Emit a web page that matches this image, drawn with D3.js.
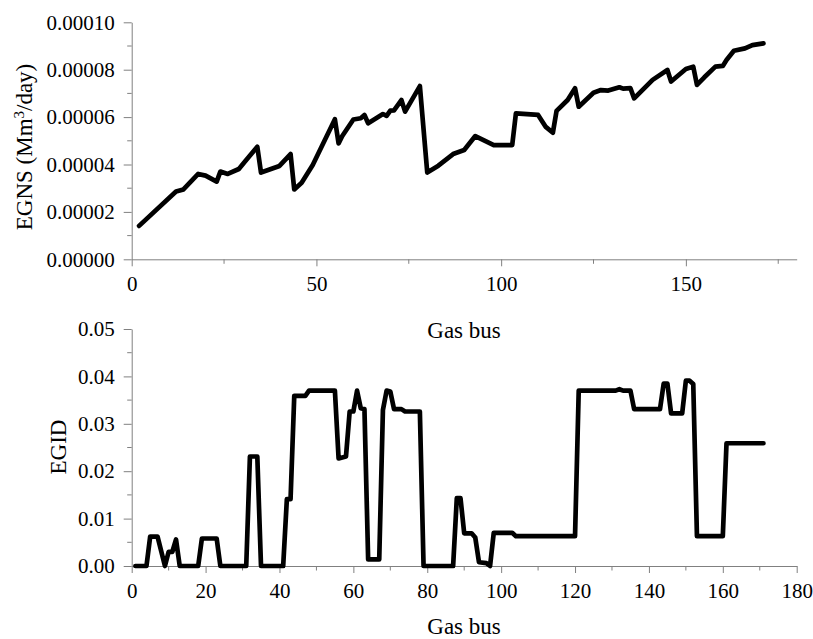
<!DOCTYPE html>
<html>
<head>
<meta charset="utf-8">
<script src="https://cdnjs.cloudflare.com/ajax/libs/d3/7.8.5/d3.min.js"></script>
<style>
  body { margin: 0; background: #fff; }
  .axis path, .axis line { stroke: #808080; stroke-width: 1; }
</style>
</head>
<body>
<svg id="chart" width="813" height="639"></svg>
<script>
// top panel: expected gas not supplied per gas bus
var egnsBus = [2, 12, 14, 18, 20, 23, 24, 26, 29, 31, 34, 35, 40, 43, 44, 46, 49, 55, 56, 57,
  60, 62, 63, 64, 68, 69, 70, 71, 73, 74, 78, 80, 83, 87, 90, 93, 98, 103, 104, 110,
  112, 114, 115, 118, 120, 121, 125, 127, 129, 132, 133, 135, 136, 141, 145, 146, 150, 152, 153, 155,
  158, 160, 161, 163, 166, 168, 171];
var egnsValue = [0.0000141, 0.0000286, 0.0000295, 0.0000360, 0.0000353, 0.0000328, 0.0000370, 0.0000360, 0.0000381, 0.0000419,
  0.0000475, 0.0000366, 0.0000394, 0.0000444, 0.0000295, 0.0000323, 0.0000398, 0.0000591, 0.0000489, 0.0000520,
  0.0000590, 0.0000595, 0.0000609, 0.0000574, 0.0000613, 0.0000605, 0.0000627, 0.0000628, 0.0000672, 0.0000623,
  0.0000731, 0.0000366, 0.0000395, 0.0000444, 0.0000461, 0.0000520, 0.0000482, 0.0000482, 0.0000616, 0.0000609,
  0.0000560, 0.0000534, 0.0000626, 0.0000672, 0.0000722, 0.0000644, 0.0000703, 0.0000714, 0.0000712, 0.0000726,
  0.0000720, 0.0000722, 0.0000679, 0.0000757, 0.0000799, 0.0000750, 0.0000803, 0.0000813, 0.0000736, 0.0000768,
  0.0000813, 0.0000816, 0.0000841, 0.0000880, 0.0000890, 0.0000904, 0.0000911];

// bottom panel: EGID per gas bus
var egidBus = [1, 4, 5, 7, 9, 10, 11, 12, 13, 18, 19, 23, 24, 31, 32, 34, 35, 41, 42, 43,
  44, 47, 48, 55, 56, 58, 59, 60, 61, 62, 63, 64, 67, 68, 69, 70, 71, 73, 74, 78,
  79, 87, 88, 89, 90, 92, 93, 94, 96, 97, 98, 103, 104, 120, 121, 131, 132, 133, 135, 136,
  143, 144, 145, 146, 149, 150, 151, 152, 153, 160, 161, 171];
var egidValue = [0, 0, 0.0062, 0.0062, 0, 0.0030, 0.0030, 0.0056, 0, 0, 0.0058, 0.0058, 0, 0, 0.0231, 0.0231, 0, 0, 0.0141, 0.0141,
  0.0359, 0.0359, 0.0370, 0.0370, 0.0227, 0.0231, 0.0326, 0.0326, 0.0370, 0.0333, 0.0331, 0.0014, 0.0014, 0.0329, 0.0370, 0.0368,
  0.0331, 0.0331, 0.0326, 0.0326, 0, 0, 0.0143, 0.0143, 0.0069, 0.0069, 0.0060, 0.0008, 0.0006, 0, 0.0070, 0.0070,
  0.0063, 0.0063, 0.0370, 0.0370, 0.0373, 0.0370, 0.0370, 0.0331, 0.0331, 0.0385, 0.0385, 0.0322, 0.0322, 0.0391,
  0.0391, 0.0384, 0.0063, 0.0063, 0.0259, 0.0259];

var topYTicks = [0, 0.00002, 0.00004, 0.00006, 0.00008, 0.0001];
var topXTicks = [0, 50, 100, 150];
var botYTicks = [0, 0.01, 0.02, 0.03, 0.04, 0.05];
var botXTicks = [0, 20, 40, 60, 80, 100, 120, 140, 160, 180];

var serif = "'Liberation Serif', 'Times New Roman', serif";
var svg = d3.select("#chart");
var left = 131.7, right = 796.7;

function drawPanel(opt) {
  var x = d3.scaleLinear().domain([0, 180]).range([left, right]);
  var y = d3.scaleLinear().domain([0, opt.yMax]).range([opt.y0, opt.y1]);
  var g = svg.append("g");

  // minor ticks
  var xa = g.append("g").attr("class", "axis").attr("transform", "translate(0," + opt.y0 + ")");
  xa.selectAll("line.minor").data(opt.xMinor).enter().append("line")
    .attr("x1", d => x(d)).attr("x2", d => x(d)).attr("y1", 0).attr("y2", 4.5);
  xa.call(d3.axisBottom(x).tickValues(opt.xTicks).tickSize(7).tickSizeOuter(0).tickPadding(10)
    .tickFormat(d3.format("d")));

  var ya = g.append("g").attr("class", "axis").attr("transform", "translate(" + left + ",0)");
  ya.selectAll("line.minor").data(opt.yMinor).enter().append("line")
    .attr("x1", 0).attr("x2", -4.5).attr("y1", d => y(d)).attr("y2", d => y(d));
  ya.call(d3.axisLeft(y).tickValues(opt.yTicks).tickSize(8).tickSizeOuter(0).tickPadding(9)
    .tickFormat(d3.format(opt.yFmt)));

  g.selectAll(".axis").attr("font-family", serif).attr("font-size", 21);
  g.selectAll(".axis text").attr("fill", "#000");
  xa.selectAll(".tick text").attr("dy", "0.71em").attr("y", 17);

  var pts = opt.bus.map((b, i) => [b, opt.val[i]]);
  g.append("path")
    .datum(pts)
    .attr("fill", "none")
    .attr("stroke", "#000")
    .attr("stroke-width", 4.7)
    .attr("stroke-linejoin", "round")
    .attr("stroke-linecap", "round")
    .attr("d", d3.line().x(d => x(d[0])).y(d => y(d[1])));
}

drawPanel({
  y0: 259.3, y1: 22.3, yMax: 0.0001,
  xTicks: topXTicks, xMinor: [25, 75, 125, 175],
  yTicks: topYTicks, yMinor: [0.00001, 0.00003, 0.00005, 0.00007, 0.00009],
  yFmt: ".5f", bus: egnsBus, val: egnsValue
});

drawPanel({
  y0: 566, y1: 329, yMax: 0.05,
  xTicks: botXTicks, xMinor: d3.range(10, 180, 20),
  yTicks: botYTicks, yMinor: [0.005, 0.015, 0.025, 0.035, 0.045],
  yFmt: ".2f", bus: egidBus, val: egidValue
});

// axis titles
function title(t, tr, size) {
  return svg.append("text").attr("transform", tr).attr("text-anchor", "middle")
    .attr("font-family", serif).attr("font-size", size).attr("fill", "#000").text(t);
}
title("Gas bus", "translate(464,338)", 23);
title("Gas bus", "translate(464,634)", 23);
title("EGID", "translate(66,447) rotate(-90)", 23);
var eg = title("EGNS (Mm", "translate(32,147) rotate(-90)", 23);
eg.append("tspan").attr("dy", -8).attr("font-size", 15).text("3");
eg.append("tspan").attr("dy", 8).text("/day)");
</script>
</body>
</html>
